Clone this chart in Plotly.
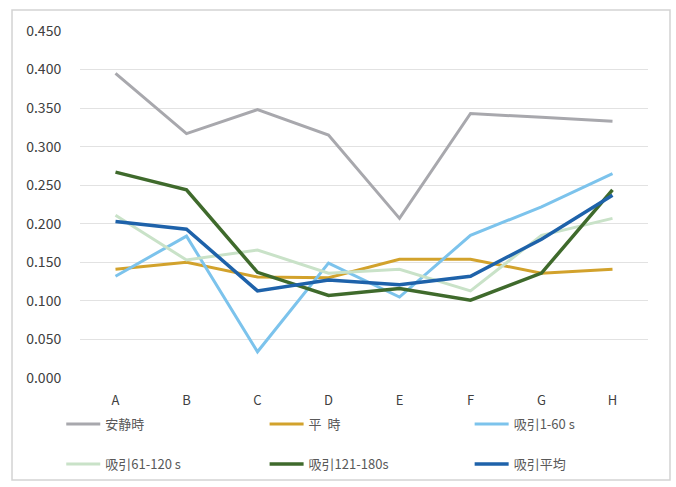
import plotly.graph_objects as go

categories = ["A", "B", "C", "D", "E", "F", "G", "H"]

quiet = [0.395, 0.317, 0.348, 0.315, 0.207, 0.343, 0.338, 0.333]
normal = [0.141, 0.150, 0.131, 0.130, 0.154, 0.154, 0.136, 0.141]
suck_1_60 = [0.132, 0.184, 0.034, 0.149, 0.105, 0.185, 0.222, 0.265]
suck_61_120 = [0.211, 0.153, 0.166, 0.136, 0.141, 0.113, 0.185, 0.207]
suck_121_180 = [0.267, 0.244, 0.137, 0.107, 0.116, 0.101, 0.136, 0.244]
suck_avg = [0.203, 0.193, 0.113, 0.127, 0.121, 0.132, 0.180, 0.237]

names = ["安静時", "平  時", "吸引1-60 s", "吸引61-120 s", "吸引121-180s", "吸引平均"]
colors = ["#A8A8AD", "#D2A22C", "#7CC3EC", "#C9E2C8", "#3F6A2C", "#1E62AA"]
widths = [3, 3, 3, 3, 3.5, 3.5]
series = [quiet, normal, suck_1_60, suck_61_120, suck_121_180, suck_avg]
legend_ids = ["legend", "legend2", "legend3", "legend4", "legend5", "legend6"]
legend_x = [-0.033, 0.325, 0.686, -0.033, 0.325, 0.686]
legend_y = [-0.133, -0.133, -0.133, -0.248, -0.248, -0.248]

font_family = "Noto Sans CJK JP, Noto Sans, sans-serif"

fig = go.Figure()
for name, col, w, vals, lg in zip(names, colors, widths, series, legend_ids):
    fig.add_trace(go.Scatter(
        x=categories, y=vals, name=name, mode="lines",
        line=dict(color=col, width=w), legend=lg,
    ))

legend_common = dict(
    orientation="h", xanchor="left", yanchor="middle",
    font=dict(family=font_family, size=13, color="#595959"),
    bgcolor="rgba(0,0,0,0)", itemwidth=34,
)

legends = {}
for lg, lx, ly in zip(legend_ids, legend_x, legend_y):
    legends[lg] = dict(x=lx, y=ly, **legend_common)

fig.update_layout(
    width=676, height=487,
    margin=dict(l=80, r=28, t=31, b=109, autoexpand=False),
    paper_bgcolor="white", plot_bgcolor="white",
    font=dict(family=font_family, size=13, color="#404040"),
    showlegend=True,
    xaxis=dict(
        range=[-0.5, 7.5],
        showgrid=False, zeroline=False, showline=False,
        ticks="outside", ticklen=10, tickcolor="rgba(0,0,0,0)",
        tickfont=dict(size=13, color="#404040"),
    ),
    yaxis=dict(
        range=[0, 0.45], dtick=0.05, tickformat=".3f",
        showgrid=True, gridcolor="#E2E2E2", gridwidth=1,
        zeroline=False, showline=False,
        ticks="outside", ticklen=15, tickcolor="rgba(0,0,0,0)",
        tickfont=dict(size=14, color="#404040"),
    ),
    shapes=[dict(
        type="rect", xref="paper", yref="paper",
        x0=-0.1197, x1=1.0387, y0=-0.294, y1=1.0605,
        line=dict(color="#D3D3D3", width=1.5), layer="below",
    )],
    **legends,
)

fig.write_html(
    "out.html",
    config={"displayModeBar": False},
    post_script="document.body.style.margin='0';document.body.style.overflow='hidden';",
)
